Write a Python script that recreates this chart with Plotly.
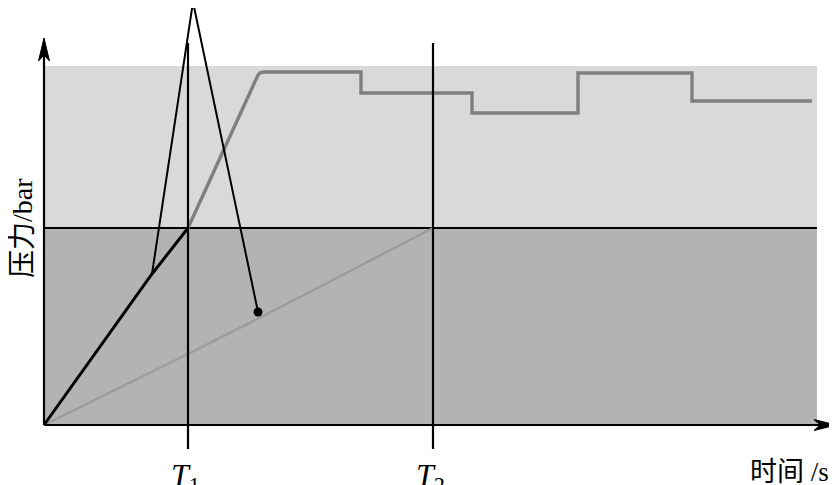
import plotly.graph_objects as go

# ---- data (time units, pressure units) ----
T1 = 14.4
T2 = 38.9
threshold = 19.7
band_top = 35.9
t_end_band = 77.3
x_axis_end = 79.2
y_axis_end = 38.7
vline_top = 38.2
vline_bottom = -2.4

black_t = [0.0, 10.8, 14.4]
black_p = [0.0, 15.1, 19.7]

grey_t = [14.4, 21.4, 21.65, 22.0, 31.7, 31.7, 42.8, 42.8, 53.4, 53.4, 64.8, 64.8, 76.8]
grey_p = [19.7, 35.0, 35.25, 35.3, 35.3, 33.2, 33.2, 31.2, 31.2, 35.2, 35.2, 32.4, 32.4]

light_t = [0.0, 14.4, 25.6, 38.9]
light_p = [0.0, 7.1, 12.8, 19.7]

callout_t = [10.8, 14.9, 21.4]
callout_p = [15.1, 42.3, 11.3]

x_label = "时间 /s"
y_label = "压力/bar"
tick_labels = ["<i>T</i><sub>1</sub>", "<i>T</i><sub>2</sub>"]

FONT = "Liberation Serif, Noto Sans CJK SC, serif"

fig = go.Figure()

# bands
fig.add_shape(type="rect", x0=0, x1=t_end_band, y0=threshold, y1=band_top,
              fillcolor="#d9d9d9", line_width=0, layer="below")
fig.add_shape(type="rect", x0=0, x1=t_end_band, y0=0, y1=threshold,
              fillcolor="#b3b3b3", line_width=0, layer="below")

# threshold line
fig.add_trace(go.Scatter(x=[0, t_end_band], y=[threshold, threshold], mode="lines",
                         line=dict(color="black", width=1.8), hoverinfo="skip"))

# light grey line
fig.add_trace(go.Scatter(x=light_t, y=light_p, mode="lines",
                         line=dict(color="#9c9c9c", width=2.5, shape="spline"), hoverinfo="skip"))

# grey step curve
fig.add_trace(go.Scatter(x=grey_t, y=grey_p, mode="lines",
                         line=dict(color="#7f7f7f", width=3.4), hoverinfo="skip"))

# vertical lines
for T in (T1, T2):
    fig.add_trace(go.Scatter(x=[T, T], y=[vline_bottom, vline_top], mode="lines",
                             line=dict(color="black", width=2.2), hoverinfo="skip"))

# black line
fig.add_trace(go.Scatter(x=black_t, y=black_p, mode="lines",
                         line=dict(color="black", width=3), hoverinfo="skip"))

# callout
fig.add_trace(go.Scatter(x=callout_t, y=callout_p, mode="lines",
                         line=dict(color="black", width=2), hoverinfo="skip"))
fig.add_trace(go.Scatter(x=[callout_t[-1]], y=[callout_p[-1]], mode="markers",
                         marker=dict(color="black", size=9), hoverinfo="skip"))

# axes
fig.add_trace(go.Scatter(x=[0, 0], y=[0, y_axis_end - 1.5], mode="lines",
                         line=dict(color="black", width=2.2), hoverinfo="skip"))
fig.add_trace(go.Scatter(x=[0, x_axis_end - 1.5], y=[0, 0], mode="lines",
                         line=dict(color="black", width=2.2), hoverinfo="skip"))
# arrowheads
fig.add_trace(go.Scatter(x=[0, -0.55, 0, 0.55, 0],
                         y=[y_axis_end, y_axis_end - 2.3, y_axis_end - 1.7, y_axis_end - 2.3, y_axis_end],
                         mode="lines", fill="toself", fillcolor="black",
                         line=dict(color="black", width=1), hoverinfo="skip"))
fig.add_trace(go.Scatter(x=[x_axis_end, x_axis_end - 2.2, x_axis_end - 1.6, x_axis_end - 2.2, x_axis_end],
                         y=[0, 0.55, 0, -0.55, 0],
                         mode="lines", fill="toself", fillcolor="black",
                         line=dict(color="black", width=1), hoverinfo="skip"))

# labels
for T, lab in zip((T1, T2), tick_labels):
    fig.add_annotation(x=T - 0.3, y=-5.2, text=lab, showarrow=False,
                       xanchor="center", yanchor="middle",
                       font=dict(family=FONT, size=32, color="black"))
fig.add_annotation(x=78.7, y=-4.7, text=x_label, showarrow=False,
                   xanchor="right", yanchor="middle",
                   font=dict(family=FONT, size=27, color="black"))
fig.add_annotation(x=-2.2, y=threshold, text=y_label, showarrow=False,
                   textangle=-90, xanchor="center", yanchor="middle",
                   font=dict(family=FONT, size=28, color="black"))

fig.update_layout(
    width=829, height=477,
    margin=dict(l=0, r=0, t=0, b=0),
    paper_bgcolor="white", plot_bgcolor="white",
    showlegend=False,
    xaxis=dict(range=[-3.6, 79.3], visible=False, fixedrange=True),
    yaxis=dict(range=[-6.0, 41.7], visible=False, fixedrange=True),
)

fig.write_html("out.html")
